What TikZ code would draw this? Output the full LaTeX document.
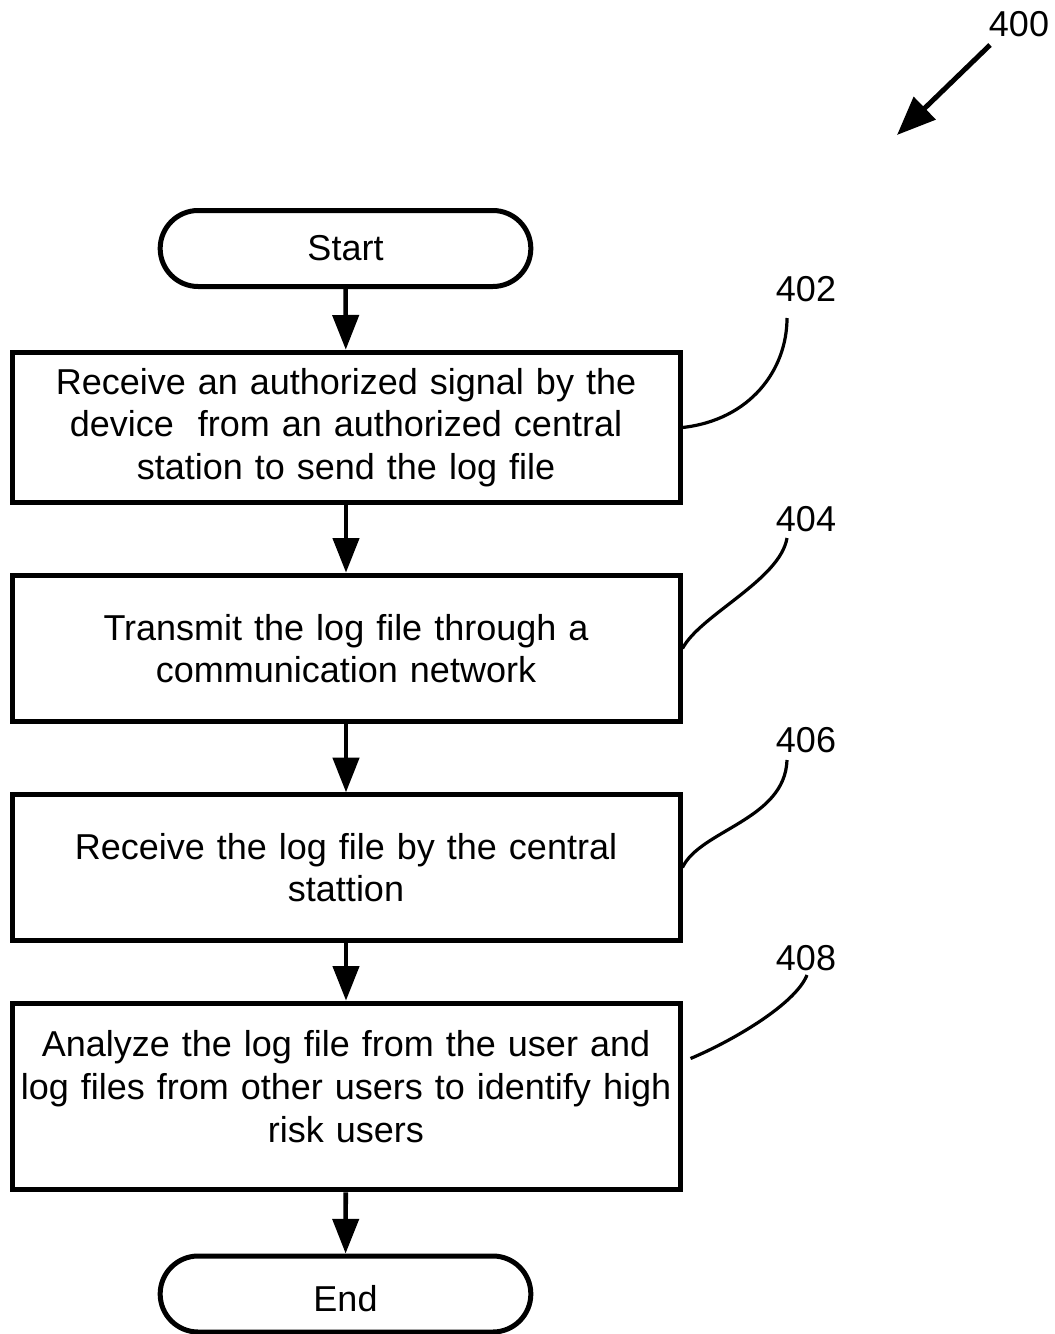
\documentclass[tikz,border=0pt]{standalone}
\usepackage{fontspec}
\setmainfont{Liberation Sans}
\usetikzlibrary{arrows.meta,calc}

\begin{document}
\begin{tikzpicture}[
  x=0.75pt,
  y=-0.75pt,
  every node/.style={
    font=\fontsize{27}{32}\selectfont,
  },
  process/.style={
    draw,
    rectangle,
    line width=3.75pt,
    minimum width=501pt,
    minimum height=#1,
    text width=490pt,
    align=center,
    inner sep=0pt,
  },
  process/.default=110pt,
  terminal/.style={
    draw,
    rectangle,
    rounded corners=28.5pt,
    line width=3.75pt,
    minimum width=278pt,
    minimum height=57pt,
  },
  flow/.style={
    line width=3.4pt,
    -{Triangle[length=26pt,width=19.5pt]},
  },
  leader/.style={
    line width=2.4pt,
  }
]
\useasboundingbox (0,0) rectangle (1055,1334);

\node[terminal] at (345.5,248.5) (start) {Start};
\node[process=113pt] at (346,427.5) (receive) {Receive an authorized signal by the\\ device\ \ from an authorized central\\ station to send the log file};
\node[process=110pt] at (346,648.5) (transmit) {Transmit the log file through a\\ communication network};
\node[process=109pt] at (346,867.5) (central) {Receive the log file by the central\\ stattion};
\node[process=140pt] at (346,1096.5) (analyze) {Analyze the log file from the user and\\ log files from other users to identify high\\ risk users\rule[-15pt]{0pt}{15pt}};
\node[terminal] at (345.5,1294) (end) {\rule{0pt}{27pt}End};

\path[draw,flow] (start) -- (receive);
\path[draw,flow] (receive) -- (transmit);
\path[draw,flow] (transmit) -- (central);
\path[draw,flow] (central) -- (analyze);
\path[draw,flow] (analyze) -- (end);

% reference numerals
\node[inner sep=0pt] at (1019,24) (ref400) {400};
\node[inner sep=0pt] at (806,289) (ref402) {402};
\node[inner sep=0pt] at (806,519) (ref404) {404};
\node[inner sep=0pt] at (806,740) (ref406) {406};
\node[inner sep=0pt] at (806,958) (ref408) {408};

\coordinate (tail400) at (990,45);
\coordinate (head400) at (897,135);
\coordinate (tip402) at (787,318);
\coordinate (tip404) at (787,538);
\coordinate (tip406) at (787,760);
\coordinate (tip408) at (807,975);

\path[draw,line width=3.75pt,-{Triangle[length=29pt,width=23pt]}] (tail400) -- (head400);
\path[draw,leader] (receive.east) .. controls (750,420) and (787,370) .. (tip402);
\path[draw,leader] (transmit.east) .. controls (700,615) and (780,580) .. (tip404);
\path[draw,leader] (central.east) .. controls (700,830) and (785,820) .. (tip406);
\path[draw,leader] ($(analyze.east)+(8,-38)$) .. controls (730,1042) and (795,1005) .. (tip408);
\end{tikzpicture}
\end{document}
